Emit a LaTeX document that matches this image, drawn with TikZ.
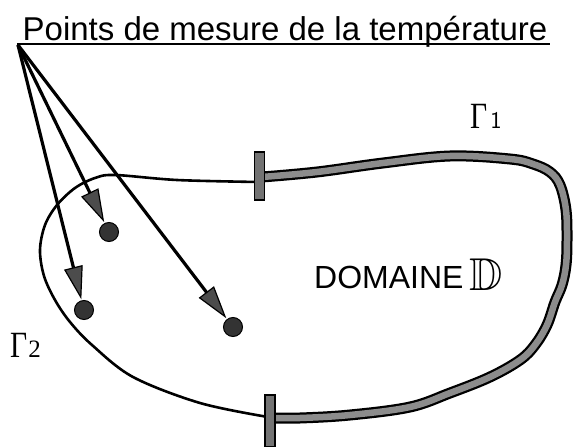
\documentclass[tikz,border=0pt]{standalone}
\usepackage{fontspec}
\usepackage{amssymb}
\setmainfont{Liberation Sans}
\newfontfamily\serifG{Liberation Serif}
\usetikzlibrary{arrows.meta}
\begin{document}
\begin{tikzpicture}[x=1pt,y=-1pt,
  thinb/.style={line width=2.6pt, black, line join=round},
  thickb/.style={line width=11pt, black, line join=round},
  thickin/.style={line width=6.5pt, black!45, line join=round},
  tickbox/.style={draw=black, fill=black!55, line width=1.6pt, minimum width=10pt, inner sep=0},
  dot/.style={circle, draw=black, fill=black!80, line width=1pt, minimum size=19pt, inner sep=0},
  arr/.style={line width=3.2pt, -{Triangle[length=33pt,width=19pt,fill=black!70,line width=1.2pt]}, shorten >=1pt},
  gam/.style={anchor=base west, inner sep=0},
]
\useasboundingbox (0,0) rectangle (574,447);

% title
\node[anchor=base, inner sep=0, font=\fontsize{33}{40}\selectfont] (title) at (285,41) {Points de mesure de la température};
\draw[line width=2.2pt] (17,44) -- (550,44);
\coordinate (o) at (18,45);

% thin boundary Gamma2
\draw[thinb] plot[smooth, tension=0.55] coordinates {(258,182) (177,180) (115,175) (95,178) (75,188) (57,205) (45,225) (40,250) (44,276) (55,300) (70,322) (92,345) (133,377) (200,403) (268,417)};

% thick boundary Gamma1
\def\thickpath{plot[smooth, tension=0.6] coordinates {(262,177) (317,172) (383,163) (450,156) (510,159) (533,164) (550,172) (560,185) (566,210) (567,240) (566,265) (562,285) (555,302) (547,325) (535,345) (520,360) (490,377) (450,393) (410,407) (350,415) (300,418) (270,418)}}
\draw[thickb] \thickpath;
\draw[thickin] \thickpath;

% ticks
\node[tickbox, minimum height=48pt] (t1) at (259.5,176) {};
\node[tickbox, minimum height=52pt] (t2) at (270,421) {};

% measurement points
\node[dot] (d1) at (109,232) {};
\node[dot] (d2) at (84,310) {};
\node[dot] (d3) at (233,327) {};
\draw[arr] (o) -- (d1);
\draw[arr] (o) -- (d2);
\draw[arr] (o) -- (d3);

% labels
\node[gam] (g1) at (470,128) {\serifG\fontsize{37}{40}\selectfont\scalebox{0.8}[1]{Γ}\hspace{3pt}\fontsize{24}{28}\selectfont\sffamily 1};
\node[gam] (g2) at (10,357) {\serifG\fontsize{37}{40}\selectfont\scalebox{0.8}[1]{Γ}\hspace{1pt}\fontsize{25}{28}\selectfont 2};
\node[gam] (dom) at (314,288) {\fontsize{32}{36}\selectfont DOMAINE};
\node[gam] (dd) at (469,290) {\fontsize{46}{50}\selectfont$\mathbb{D}$};
\end{tikzpicture}
\end{document}
